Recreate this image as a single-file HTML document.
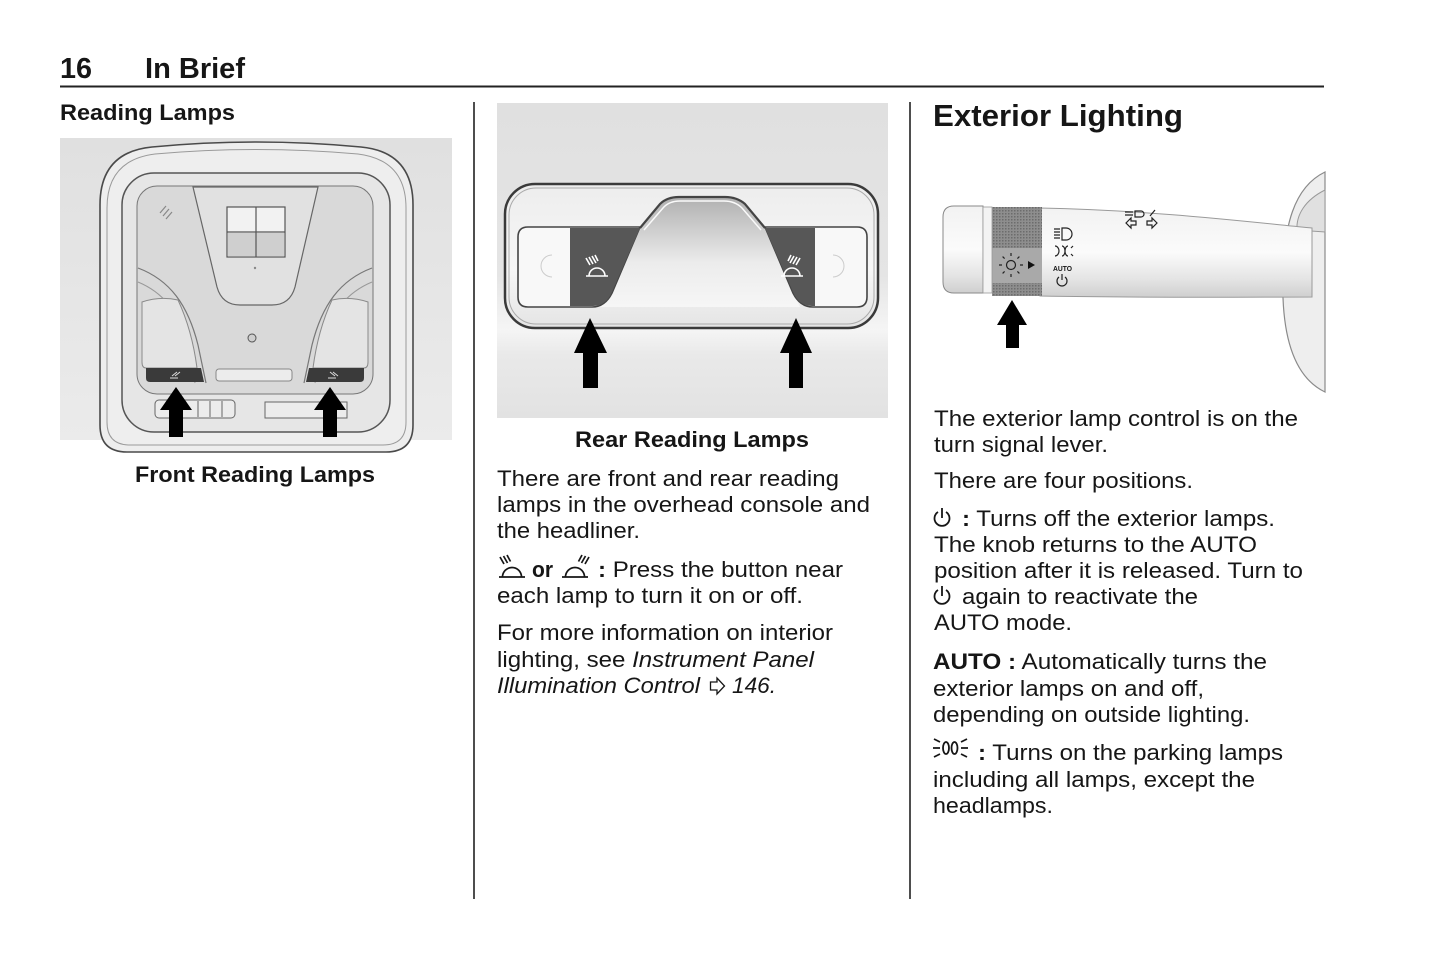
<!DOCTYPE html>
<html><head><meta charset="utf-8">
<style>
html,body{margin:0;padding:0;background:#fff;}
svg{display:block;}
text{font-family:"Liberation Sans",Arial,sans-serif;fill:#161616;}
.b{font-weight:bold;}
.i{font-style:italic;}
</style></head><body>
<svg width="1445" height="965" viewBox="0 0 1445 965" xmlns="http://www.w3.org/2000/svg">
<defs>
 <linearGradient id="lbg" x1="0" y1="0" x2="0" y2="1"><stop offset="0" stop-color="#e0e0e0"/><stop offset="1" stop-color="#ebebeb"/></linearGradient>
 <linearGradient id="mbg" x1="0" y1="0" x2="0" y2="1">
  <stop offset="0" stop-color="#e0e0e0"/><stop offset="0.55" stop-color="#e5e5e5"/>
  <stop offset="0.72" stop-color="#f5f5f5"/><stop offset="0.8" stop-color="#e9e9e9"/><stop offset="1" stop-color="#e2e2e2"/>
 </linearGradient>
 <linearGradient id="mfr" x1="0" y1="0" x2="0" y2="1">
  <stop offset="0" stop-color="#ededed"/><stop offset="0.6" stop-color="#f7f7f7"/><stop offset="1" stop-color="#e4e4e4"/>
 </linearGradient>
 <linearGradient id="hump" x1="0" y1="0" x2="0" y2="1">
  <stop offset="0" stop-color="#b0b0b0"/><stop offset="0.6" stop-color="#ececec"/><stop offset="1" stop-color="#f6f6f6"/>
 </linearGradient>
 <linearGradient id="lev" x1="0" y1="0" x2="0" y2="1">
  <stop offset="0" stop-color="#f2f2f2"/><stop offset="0.5" stop-color="#fbfbfb"/><stop offset="0.8" stop-color="#e4e4e4"/><stop offset="1" stop-color="#cfcfcf"/>
 </linearGradient>
 <pattern id="kn" width="3" height="3" patternUnits="userSpaceOnUse"><rect width="3" height="3" fill="#8e8e8e"/><rect width="1.5" height="1.5" fill="#6c6c6c"/></pattern>
</defs>

<!-- header -->
<text x="60" y="78" font-size="29" class="b" textLength="32" lengthAdjust="spacingAndGlyphs">16</text>
<text x="145" y="78" font-size="29" class="b" textLength="100" lengthAdjust="spacingAndGlyphs">In Brief</text>
<line x1="60" y1="86.5" x2="1324" y2="86.5" stroke="#222" stroke-width="2"/>
<line x1="474" y1="102" x2="474" y2="899" stroke="#222" stroke-width="1.6"/>
<line x1="910" y1="102" x2="910" y2="899" stroke="#222" stroke-width="1.6"/>

<!-- LEFT COLUMN -->
<text x="60" y="120" font-size="22" class="b" textLength="175" lengthAdjust="spacingAndGlyphs">Reading Lamps</text>

<rect x="60" y="138" width="392" height="302" fill="url(#lbg)"/>
<path d="M100,425 L100,205 Q100,152 152,147 Q256,137 361,147 Q413,152 413,205 L413,425 Q413,452 386,452 L127,452 Q100,452 100,425 Z" fill="#eeeeee" stroke="#4a4a4a" stroke-width="1.6"/>
<path d="M107,422 L107,208 Q107,160 155,154 Q256,145 358,154 Q406,160 406,208 L406,422 Q406,445 383,445 L130,445 Q107,445 107,422 Z" fill="none" stroke="#9a9a9a" stroke-width="1"/>
<rect x="122" y="173" width="268" height="259" rx="32" fill="#e6e6e6" stroke="#555" stroke-width="1.5"/>
<rect x="137" y="186" width="236" height="208" rx="20" fill="#d9d9d9" stroke="#777" stroke-width="1"/>
<!-- band lines -->
<path d="M138,268 C170,280 188,305 198,345 L206,383" fill="none" stroke="#777" stroke-width="1.2"/>
<path d="M138,282 C162,292 178,310 188,345 L195,383" fill="none" stroke="#999" stroke-width="1"/>
<path d="M372,268 C340,280 322,305 312,345 L304,383" fill="none" stroke="#777" stroke-width="1.2"/>
<path d="M372,282 C348,292 332,310 322,345 L315,383" fill="none" stroke="#999" stroke-width="1"/>
<!-- lenses -->
<path d="M142,302 Q160,296 178,300 Q192,330 197,368 L146,368 Q142,368 142,362 Z" fill="#e4e4e4" stroke="#8a8a8a" stroke-width="1"/>
<path d="M368,302 Q350,296 332,300 Q318,330 313,368 L364,368 Q368,368 368,362 Z" fill="#e4e4e4" stroke="#8a8a8a" stroke-width="1"/>
<!-- trapezoid -->
<path d="M193,187 L217,287 Q222,305 240,305 L272,305 Q290,305 295,287 L318,187 Z" fill="#e1e1e1" stroke="#666" stroke-width="1.2"/>
<rect x="227" y="207" width="58" height="50" fill="#f2f2f2" stroke="#555" stroke-width="1.2"/>
<rect x="228" y="233" width="56" height="23" fill="#cfcfcf"/>
<line x1="256" y1="207" x2="256" y2="257" stroke="#555" stroke-width="1.2"/>
<line x1="227" y1="232" x2="285" y2="232" stroke="#555" stroke-width="1.2"/>
<circle cx="255" cy="268" r="1.2" fill="#888"/>
<path d="M160,213 l6,-7 M163,216 l6,-7 M166,219 l6,-7" stroke="#888" stroke-width="1.2"/>
<!-- small center circle -->
<circle cx="252" cy="338" r="4" fill="#cfcfcf" stroke="#555" stroke-width="1"/>
<!-- lower slot -->
<rect x="216" y="369" width="76" height="12" rx="3" fill="#ececec" stroke="#888" stroke-width="1"/>
<!-- dark strips -->
<path d="M146,368 L201,368 L204,382 L150,382 Q146,382 146,378 Z" fill="#3a3a3a"/>
<path d="M364,368 L309,368 L306,382 L360,382 Q364,382 364,378 Z" fill="#3a3a3a"/>
<path d="M170,378 l8,0 M172,376 l5,-4 M175,376 l5,-4" stroke="#ddd" stroke-width="1"/>
<path d="M328,378 l8,0 M330,372 l5,4 M333,372 l5,4" stroke="#ddd" stroke-width="1"/>
<!-- bottom buttons -->
<rect x="155" y="400" width="80" height="18" rx="4" fill="#ececec" stroke="#666" stroke-width="1"/>
<line x1="198" y1="401" x2="198" y2="417" stroke="#666"/>
<line x1="210" y1="401" x2="210" y2="417" stroke="#666"/>
<line x1="222" y1="401" x2="222" y2="417" stroke="#666"/>
<rect x="265" y="402" width="82" height="16" fill="#ececec" stroke="#666" stroke-width="1"/>
<!-- arrows -->
<path d="M176,387 L192,410 L183,410 L183,437 L169,437 L169,410 L160,410 Z" fill="#000"/>
<path d="M330,387 L346,410 L337,410 L337,437 L323,437 L323,410 L314,410 Z" fill="#000"/>

<text x="135" y="482" font-size="22" class="b" textLength="240" lengthAdjust="spacingAndGlyphs">Front Reading Lamps</text>

<!-- MIDDLE COLUMN -->
<rect x="497" y="103" width="391" height="315" fill="url(#mbg)"/>
<rect x="505" y="184" width="373" height="144" rx="30" fill="url(#mfr)" stroke="#3a3a3a" stroke-width="2.5"/>
<rect x="509" y="188" width="365" height="136" rx="27" fill="none" stroke="#aaa" stroke-width="1"/>
<!-- hump area -->
<path d="M640,228 L660,204 Q667,197 679,197 L725,197 Q737,197 745,204 L765,228 L800,307 L590,307 Z" fill="url(#hump)"/>
<path d="M640,228 L660,204 Q667,197 679,197 L725,197 Q737,197 745,204 L765,228" fill="none" stroke="#444" stroke-width="2.2"/>
<path d="M644,230 L663,208 Q669,201 680,201 L724,201 Q735,201 742,208 L761,230" fill="none" stroke="#fafafa" stroke-width="1.5"/>
<!-- housings -->
<path d="M528,227 L640,227 L612,293 Q605,307 592,307 L528,307 Q518,307 518,297 L518,237 Q518,227 528,227 Z" fill="#f8f8f8" stroke="#444" stroke-width="1.6"/>
<path d="M857,227 L765,227 L793,293 Q800,307 813,307 L857,307 Q867,307 867,297 L867,237 Q867,227 857,227 Z" fill="#f8f8f8" stroke="#444" stroke-width="1.6"/>
<path d="M570,228 L640,228 L612,292 Q606,306 593,306 L570,306 Z" fill="#575757"/>
<path d="M815,228 L765,228 L793,292 Q799,306 812,306 L815,306 Z" fill="#575757"/>
<path d="M552,255 a10,10 0 0 0 0,22" fill="none" stroke="#ccc" stroke-width="1"/>
<path d="M833,255 a10,10 0 0 1 0,22" fill="none" stroke="#ccc" stroke-width="1"/>
<!-- white lamp icons in buttons -->
<g stroke="#fff" stroke-width="1.6" fill="none">
 <line x1="586" y1="276" x2="608" y2="276"/><path d="M589,276 A8,8 0 0 1 605,276"/>
 <path d="M586,258 l4,7 M589,257 l4,7 M592,256 l4,7 M595,255 l3,6"/>
 <line x1="781" y1="276" x2="803" y2="276"/><path d="M784,276 A8,8 0 0 1 800,276"/>
 <path d="M800,258 l-4,7 M797,257 l-4,7 M794,256 l-4,7 M791,255 l-3,6"/>
</g>
<!-- arrows -->
<path d="M590,318 L607,353 L598,353 L598,388 L583,388 L583,353 L574,353 Z" fill="#000"/>
<path d="M796,318 L812,353 L803,353 L803,388 L789,388 L789,353 L780,353 Z" fill="#000"/>

<text x="575" y="447" font-size="22" class="b" textLength="234" lengthAdjust="spacingAndGlyphs">Rear Reading Lamps</text>
<text x="497" y="486" font-size="22" textLength="342" lengthAdjust="spacingAndGlyphs">There are front and rear reading</text>
<text x="497" y="512" font-size="22" textLength="373" lengthAdjust="spacingAndGlyphs">lamps in the overhead console and</text>
<text x="497" y="538" font-size="22" textLength="143" lengthAdjust="spacingAndGlyphs">the headliner.</text>
<!-- lamp icons inline -->
<g stroke="#161616" stroke-width="1.7" fill="none">
 <line x1="499" y1="577" x2="525" y2="577"/><path d="M502.5,577 A9.5,9.5 0 0 1 521.5,577"/>
 <path d="M500,557 l4,7 M503.5,556 l4,7 M507,555 l3.5,6.5"/>
 <line x1="562" y1="577" x2="588" y2="577"/><path d="M565.5,577 A9.5,9.5 0 0 1 584.5,577"/>
 <path d="M589,557 l-4,7 M585.5,556 l-4,7 M582,555 l-3.5,6.5"/>
</g>
<text x="532" y="577" font-size="22" class="b" textLength="21" lengthAdjust="spacingAndGlyphs">or</text>
<text x="598" y="577" font-size="22" textLength="245" lengthAdjust="spacingAndGlyphs"><tspan class="b">:</tspan> Press the button near</text>
<text x="497" y="603" font-size="22" textLength="306" lengthAdjust="spacingAndGlyphs">each lamp to turn it on or off.</text>
<text x="497" y="640" font-size="22" textLength="336" lengthAdjust="spacingAndGlyphs">For more information on interior</text>
<text x="497" y="667" font-size="22" textLength="317" lengthAdjust="spacingAndGlyphs">lighting, see <tspan class="i">Instrument Panel</tspan></text>
<text x="497" y="693" font-size="22" class="i" textLength="203" lengthAdjust="spacingAndGlyphs">Illumination Control</text>
<path d="M710.5,682 L717,682 L717,678 L724.5,686 L717,694 L717,690 L710.5,690 Z" fill="none" stroke="#161616" stroke-width="1.3"/>
<text x="732" y="693" font-size="22" class="i" textLength="44" lengthAdjust="spacingAndGlyphs">146.</text>

<!-- RIGHT COLUMN -->
<text x="933" y="126" font-size="30.5" class="b" textLength="250" lengthAdjust="spacingAndGlyphs">Exterior Lighting</text>

<!-- shroud -->
<path d="M1325,172 C1296,186 1281,222 1283,298 C1285,350 1300,380 1325,392 Z" fill="#eeeeee" stroke="#8a8a8a" stroke-width="1.2"/>
<path d="M1325,190 C1305,200 1296,215 1297,230 L1325,232 Z" fill="#e0e0e0" stroke="#999" stroke-width="1"/>
<!-- lever body -->
<path d="M1040,208 C1150,210 1250,222 1312,228 L1312,297 C1250,297 1150,298 1040,296 Z" fill="url(#lev)" stroke="#9a9a9a" stroke-width="1"/>
<!-- knurl -->
<rect x="992" y="207" width="50" height="89" fill="url(#kn)"/>
<rect x="992" y="248" width="50" height="35" fill="#a9a9a9"/>
<!-- end cap -->
<path d="M954,206 L983,206 L983,293 L954,293 Q943,293 943,282 L943,217 Q943,206 954,206 Z" fill="url(#lev)" stroke="#8a8a8a" stroke-width="1"/>
<rect x="983" y="207" width="9" height="86" fill="#f3f3f3" stroke="#999" stroke-width="0.8"/>
<!-- sun icon -->
<g stroke="#222" stroke-width="1.2" fill="none">
 <circle cx="1011" cy="265" r="4.5"/>
 <path d="M1011,256 v-3 M1011,274 v3 M1002,265 h-3 M1020,265 h3 M1004.6,258.6 l-2,-2 M1017.4,258.6 l2,-2 M1004.6,271.4 l-2,2 M1017.4,271.4 l2,2"/>
</g>
<path d="M1028,261 L1035,265 L1028,269 Z" fill="#111"/>
<!-- lever icons -->
<g stroke="#222" stroke-width="1.2" fill="none">
 <path d="M1054,229 h6 M1054,232 h6 M1054,235 h6 M1054,238 h6"/>
 <path d="M1062,228 h4 a6,6 0 0 1 0,12 h-4 Z"/>
 <path d="M1055,246 a4,5 0 0 1 0,10 M1062,246 a3,5 0 0 1 0,10 M1068,246 a3,5 0 0 0 0,10 M1073,246 l-2,2 M1073,256 l-2,-2"/>
 <path d="M1059,277 a5,5 0 1 0 6,0 M1062,274 v6"/>
 <path d="M1126,223 l5,-5 v3 h5 v4 h-5 v3 Z M1157,223 l-5,-5 v3 h-5 v4 h5 v3 Z"/>
 <path d="M1125,212 h8 M1125,215 h8 M1135,211 h6 a3,3 0 0 1 0,6 h-6 Z M1150,216 l5,-6"/>
</g>
<text x="1053" y="271" font-size="7" class="b" textLength="19" lengthAdjust="spacingAndGlyphs">AUTO</text>
<!-- arrow -->
<path d="M1012,300 L1027,325 L1019,325 L1019,348 L1006,348 L1006,325 L997,325 Z" fill="#000"/>

<text x="934" y="426" font-size="22" textLength="364" lengthAdjust="spacingAndGlyphs">The exterior lamp control is on the</text>
<text x="934" y="452" font-size="22" textLength="174" lengthAdjust="spacingAndGlyphs">turn signal lever.</text>
<text x="934" y="488" font-size="22" textLength="259" lengthAdjust="spacingAndGlyphs">There are four positions.</text>
<g stroke="#161616" stroke-width="1.8" fill="none">
 <path d="M938,512 A7.5,7.5 0 1 0 946,512"/><line x1="942" y1="508" x2="942" y2="518"/>
 <path d="M938,590 A7.5,7.5 0 1 0 946,590"/><line x1="942" y1="586" x2="942" y2="596"/>
</g>
<text x="962" y="526" font-size="22" textLength="313" lengthAdjust="spacingAndGlyphs"><tspan class="b">:</tspan> Turns off the exterior lamps.</text>
<text x="934" y="552" font-size="22" textLength="323" lengthAdjust="spacingAndGlyphs">The knob returns to the AUTO</text>
<text x="934" y="578" font-size="22" textLength="369" lengthAdjust="spacingAndGlyphs">position after it is released. Turn to</text>
<text x="962" y="604" font-size="22" textLength="236" lengthAdjust="spacingAndGlyphs">again to reactivate the</text>
<text x="934" y="630" font-size="22" textLength="138" lengthAdjust="spacingAndGlyphs">AUTO mode.</text>
<text x="933" y="669" font-size="22" textLength="334" lengthAdjust="spacingAndGlyphs"><tspan class="b">AUTO :</tspan> Automatically turns the</text>
<text x="933" y="696" font-size="22" textLength="271" lengthAdjust="spacingAndGlyphs">exterior lamps on and off,</text>
<text x="933" y="722" font-size="22" textLength="317" lengthAdjust="spacingAndGlyphs">depending on outside lighting.</text>
<!-- parking icon -->
<g stroke="#161616" stroke-width="1.8" fill="none">
 <path d="M934,739 l6,3 M933,748 h7 M934,757 l6,-3"/>
 <path d="M967,739 l-6,3 M968,748 h-7 M967,757 l-6,-3"/>
 <ellipse cx="946" cy="748" rx="3" ry="6"/>
 <ellipse cx="954.5" cy="748" rx="3" ry="6"/>
</g>
<text x="978" y="760" font-size="22" textLength="305" lengthAdjust="spacingAndGlyphs"><tspan class="b">:</tspan> Turns on the parking lamps</text>
<text x="933" y="787" font-size="22" textLength="322" lengthAdjust="spacingAndGlyphs">including all lamps, except the</text>
<text x="933" y="813" font-size="22" textLength="120" lengthAdjust="spacingAndGlyphs">headlamps.</text>
</svg>
</body></html>
